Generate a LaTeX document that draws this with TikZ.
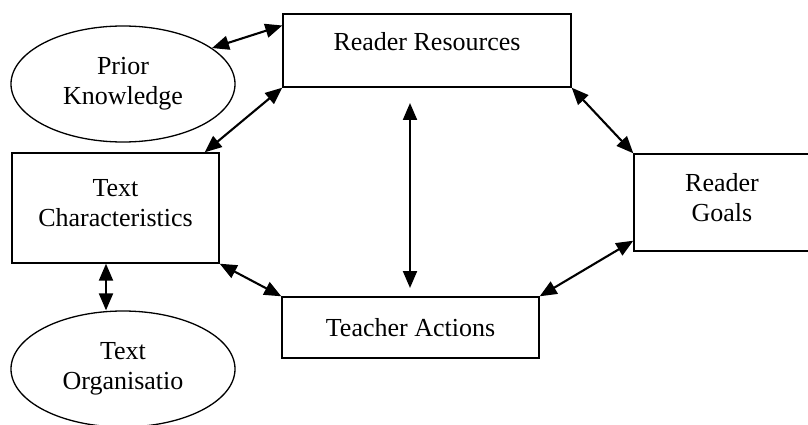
\documentclass[tikz,border=0pt]{standalone}
\usepackage{fontspec}
\setmainfont{Liberation Serif}
\usetikzlibrary{arrows.meta,shapes.geometric}
\begin{document}
\begin{tikzpicture}[x=1pt,y=-1pt,
  every node/.style={font=\fontsize{26}{30}\selectfont, align=center, inner sep=0pt},
  oval/.style={draw, ellipse, line width=1.3pt, minimum width=224pt, minimum height=116pt},
  boxed/.style={draw, rectangle, line width=1.4pt},
  link/.style={line width=2.1pt, {Triangle[length=17pt,width=14pt]}-{Triangle[length=17pt,width=14pt]}}]
\useasboundingbox (0,0) rectangle (808,425);
\node[oval] (PK) at (123,84) {Prior\\Knowledge};
\node[boxed, minimum width=288pt, minimum height=73pt, text height=18pt, text depth=17pt] (RR) at (427,50.5) {Reader Resources};
\node[boxed, minimum width=207pt, minimum height=110pt, text depth=10pt] (TC) at (115.5,208) {Text\\Characteristics};
\node[oval] (TO) at (123,369) {Text\\Organisatio};
\node[boxed, minimum width=206pt, minimum height=97pt, text depth=10pt] (RG) at (737,202.5) {};
\node (RGt) at (722,198) {Reader\\Goals};
\coordinate (mtop) at (410,103);
\coordinate (mbot) at (410,288);
\node[boxed, minimum width=257pt, minimum height=61pt] (TA) at (410.5,327.5) {Teacher Actions};
\draw[link] (PK.22) -- ([yshift=25pt]RR.west);
\draw[link] (RR.south west) -- ([xshift=-15pt]TC.north east);
\draw[link] (RR.south east) -- (RG.north west);
\draw[link] ([yshift=11pt]RG.south west) -- (TA.north east);
\draw[link] (TC.south east) -- (TA.north west);
\draw[link] ([xshift=-9.5pt]TC.south) -- ([xshift=-17pt]TO.north);
\draw[link] (mtop) -- (mbot);
\end{tikzpicture}
\end{document}
